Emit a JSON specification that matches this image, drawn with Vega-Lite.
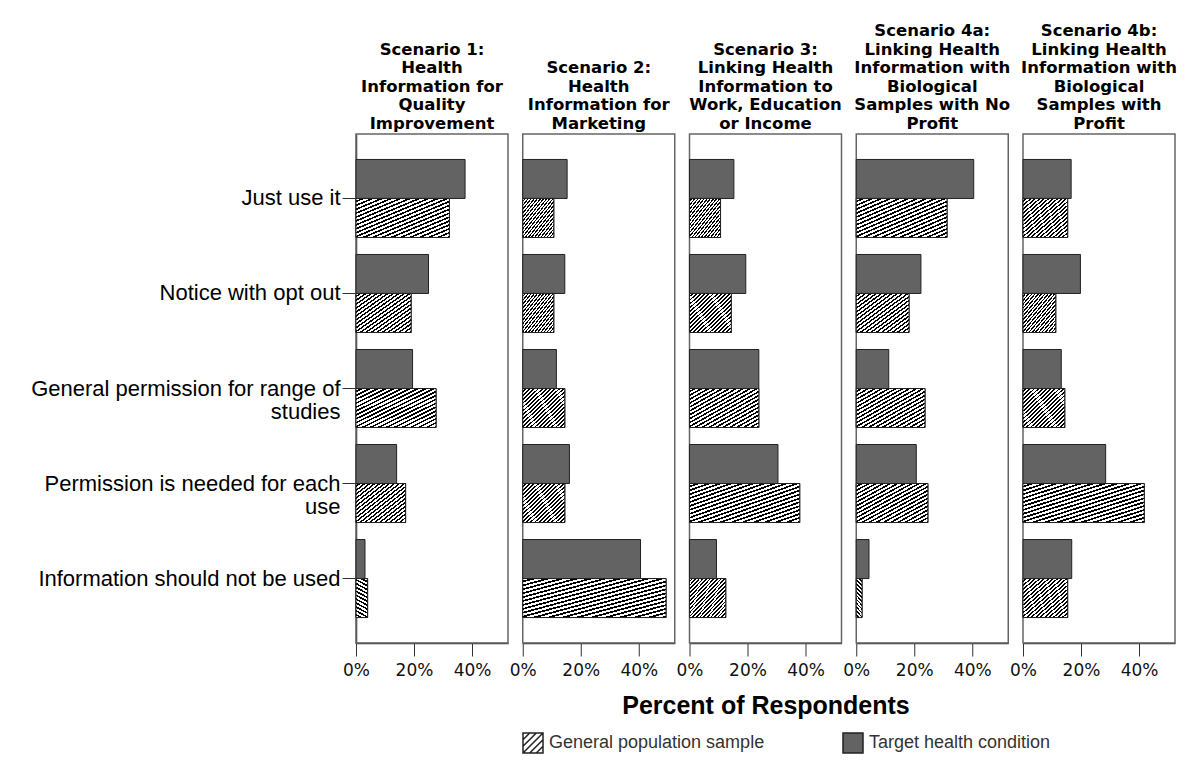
{
  "$schema": "https://vega.github.io/schema/vega-lite/v6.json",
  "padding": {"left": 30, "top": 23, "right": 10, "bottom": 10},
  "background": "white",
  "title": {"text": "Percent of Respondents", "orient": "bottom", "anchor": "middle", "frame": "group", "font": "Liberation Sans", "fontSize": 25, "fontWeight": "bold", "color": "#000000", "offset": -62, "dx": 410},
  "data": {"values": [
    {"scenario": "Scenario 1: Health Information for Quality Improvement", "response": "Just use it", "group": "Target health condition", "pct": 37.6},
    {"scenario": "Scenario 1: Health Information for Quality Improvement", "response": "Just use it", "group": "General population sample", "pct": 32.2},
    {"scenario": "Scenario 1: Health Information for Quality Improvement", "response": "Notice with opt out", "group": "Target health condition", "pct": 25.0},
    {"scenario": "Scenario 1: Health Information for Quality Improvement", "response": "Notice with opt out", "group": "General population sample", "pct": 19.0},
    {"scenario": "Scenario 1: Health Information for Quality Improvement", "response": "General permission for range of studies", "group": "Target health condition", "pct": 19.5},
    {"scenario": "Scenario 1: Health Information for Quality Improvement", "response": "General permission for range of studies", "group": "General population sample", "pct": 27.6},
    {"scenario": "Scenario 1: Health Information for Quality Improvement", "response": "Permission is needed for each use", "group": "Target health condition", "pct": 14.0},
    {"scenario": "Scenario 1: Health Information for Quality Improvement", "response": "Permission is needed for each use", "group": "General population sample", "pct": 17.1},
    {"scenario": "Scenario 1: Health Information for Quality Improvement", "response": "Information should not be used", "group": "Target health condition", "pct": 3.1},
    {"scenario": "Scenario 1: Health Information for Quality Improvement", "response": "Information should not be used", "group": "General population sample", "pct": 4.0},
    {"scenario": "Scenario 2: Health Information for Marketing", "response": "Just use it", "group": "Target health condition", "pct": 15.3},
    {"scenario": "Scenario 2: Health Information for Marketing", "response": "Just use it", "group": "General population sample", "pct": 10.7},
    {"scenario": "Scenario 2: Health Information for Marketing", "response": "Notice with opt out", "group": "Target health condition", "pct": 14.5},
    {"scenario": "Scenario 2: Health Information for Marketing", "response": "Notice with opt out", "group": "General population sample", "pct": 10.7},
    {"scenario": "Scenario 2: Health Information for Marketing", "response": "General permission for range of studies", "group": "Target health condition", "pct": 11.6},
    {"scenario": "Scenario 2: Health Information for Marketing", "response": "General permission for range of studies", "group": "General population sample", "pct": 14.5},
    {"scenario": "Scenario 2: Health Information for Marketing", "response": "Permission is needed for each use", "group": "Target health condition", "pct": 16.1},
    {"scenario": "Scenario 2: Health Information for Marketing", "response": "Permission is needed for each use", "group": "General population sample", "pct": 14.5},
    {"scenario": "Scenario 2: Health Information for Marketing", "response": "Information should not be used", "group": "Target health condition", "pct": 40.6},
    {"scenario": "Scenario 2: Health Information for Marketing", "response": "Information should not be used", "group": "General population sample", "pct": 49.4},
    {"scenario": "Scenario 3: Linking Health Information to Work, Education or Income", "response": "Just use it", "group": "Target health condition", "pct": 15.3},
    {"scenario": "Scenario 3: Linking Health Information to Work, Education or Income", "response": "Just use it", "group": "General population sample", "pct": 10.7},
    {"scenario": "Scenario 3: Linking Health Information to Work, Education or Income", "response": "Notice with opt out", "group": "Target health condition", "pct": 19.4},
    {"scenario": "Scenario 3: Linking Health Information to Work, Education or Income", "response": "Notice with opt out", "group": "General population sample", "pct": 14.4},
    {"scenario": "Scenario 3: Linking Health Information to Work, Education or Income", "response": "General permission for range of studies", "group": "Target health condition", "pct": 23.9},
    {"scenario": "Scenario 3: Linking Health Information to Work, Education or Income", "response": "General permission for range of studies", "group": "General population sample", "pct": 23.9},
    {"scenario": "Scenario 3: Linking Health Information to Work, Education or Income", "response": "Permission is needed for each use", "group": "Target health condition", "pct": 30.5},
    {"scenario": "Scenario 3: Linking Health Information to Work, Education or Income", "response": "Permission is needed for each use", "group": "General population sample", "pct": 38.0},
    {"scenario": "Scenario 3: Linking Health Information to Work, Education or Income", "response": "Information should not be used", "group": "Target health condition", "pct": 9.3},
    {"scenario": "Scenario 3: Linking Health Information to Work, Education or Income", "response": "Information should not be used", "group": "General population sample", "pct": 12.5},
    {"scenario": "Scenario 4a: Linking Health Information with Biological Samples with No Profit", "response": "Just use it", "group": "Target health condition", "pct": 40.5},
    {"scenario": "Scenario 4a: Linking Health Information with Biological Samples with No Profit", "response": "Just use it", "group": "General population sample", "pct": 31.3},
    {"scenario": "Scenario 4a: Linking Health Information with Biological Samples with No Profit", "response": "Notice with opt out", "group": "Target health condition", "pct": 22.3},
    {"scenario": "Scenario 4a: Linking Health Information with Biological Samples with No Profit", "response": "Notice with opt out", "group": "General population sample", "pct": 18.2},
    {"scenario": "Scenario 4a: Linking Health Information with Biological Samples with No Profit", "response": "General permission for range of studies", "group": "Target health condition", "pct": 11.2},
    {"scenario": "Scenario 4a: Linking Health Information with Biological Samples with No Profit", "response": "General permission for range of studies", "group": "General population sample", "pct": 23.7},
    {"scenario": "Scenario 4a: Linking Health Information with Biological Samples with No Profit", "response": "Permission is needed for each use", "group": "Target health condition", "pct": 20.7},
    {"scenario": "Scenario 4a: Linking Health Information with Biological Samples with No Profit", "response": "Permission is needed for each use", "group": "General population sample", "pct": 24.7},
    {"scenario": "Scenario 4a: Linking Health Information with Biological Samples with No Profit", "response": "Information should not be used", "group": "Target health condition", "pct": 4.4},
    {"scenario": "Scenario 4a: Linking Health Information with Biological Samples with No Profit", "response": "Information should not be used", "group": "General population sample", "pct": 2.0},
    {"scenario": "Scenario 4b: Linking Health Information with Biological Samples with Profit", "response": "Just use it", "group": "Target health condition", "pct": 16.6},
    {"scenario": "Scenario 4b: Linking Health Information with Biological Samples with Profit", "response": "Just use it", "group": "General population sample", "pct": 15.4},
    {"scenario": "Scenario 4b: Linking Health Information with Biological Samples with Profit", "response": "Notice with opt out", "group": "Target health condition", "pct": 19.8},
    {"scenario": "Scenario 4b: Linking Health Information with Biological Samples with Profit", "response": "Notice with opt out", "group": "General population sample", "pct": 11.3},
    {"scenario": "Scenario 4b: Linking Health Information with Biological Samples with Profit", "response": "General permission for range of studies", "group": "Target health condition", "pct": 13.2},
    {"scenario": "Scenario 4b: Linking Health Information with Biological Samples with Profit", "response": "General permission for range of studies", "group": "General population sample", "pct": 14.4},
    {"scenario": "Scenario 4b: Linking Health Information with Biological Samples with Profit", "response": "Permission is needed for each use", "group": "Target health condition", "pct": 28.5},
    {"scenario": "Scenario 4b: Linking Health Information with Biological Samples with Profit", "response": "Permission is needed for each use", "group": "General population sample", "pct": 41.8},
    {"scenario": "Scenario 4b: Linking Health Information with Biological Samples with Profit", "response": "Information should not be used", "group": "Target health condition", "pct": 16.8},
    {"scenario": "Scenario 4b: Linking Health Information with Biological Samples with Profit", "response": "Information should not be used", "group": "General population sample", "pct": 15.4}
  ]},
  "facet": {
    "column": {
      "field": "scenario",
      "type": "nominal",
      "title": null,
      "sort": [
        "Scenario 1: Health Information for Quality Improvement",
        "Scenario 2: Health Information for Marketing",
        "Scenario 3: Linking Health Information to Work, Education or Income",
        "Scenario 4a: Linking Health Information with Biological Samples with No Profit",
        "Scenario 4b: Linking Health Information with Biological Samples with Profit"
      ],
      "header": {
        "labelOrient": "top",
        "labelAnchor": "middle",
        "labelBaseline": "bottom",
        "labelFont": "DejaVu Sans",
        "labelFontWeight": "bold",
        "labelFontSize": 16.5,
        "labelLineHeight": 18.5,
        "labelColor": "#000000",
        "labelPadding": -14,
        "labelExpr": "datum.value == 'Scenario 1: Health Information for Quality Improvement' ? ['Scenario 1:', 'Health', 'Information for', 'Quality', 'Improvement'] : datum.value == 'Scenario 2: Health Information for Marketing' ? ['Scenario 2:', 'Health', 'Information for', 'Marketing'] : datum.value == 'Scenario 3: Linking Health Information to Work, Education or Income' ? ['Scenario 3:', 'Linking Health', 'Information to', 'Work, Education', 'or Income'] : datum.value == 'Scenario 4a: Linking Health Information with Biological Samples with No Profit' ? ['Scenario 4a:', 'Linking Health', 'Information with', 'Biological', 'Samples with No', 'Profit'] : ['Scenario 4b:', 'Linking Health', 'Information with', 'Biological', 'Samples with', 'Profit']"
      }
    }
  },
  "spacing": 14.75,
  "bounds": "flush",
  "spec": {
    "width": 152,
    "height": 509,
    "encoding": {
      "y": {
        "field": "response",
        "type": "nominal",
        "sort": ["Just use it", "Notice with opt out", "General permission for range of studies", "Permission is needed for each use", "Information should not be used"],
        "scale": {"paddingInner": 0.179, "paddingOuter": 0.268},
        "axis": {
          "title": null,
          "labelFont": "Liberation Sans",
          "labelFontSize": 22,
          "labelColor": "#000000",
          "labelLineHeight": 23,
          "labelLimit": 400,
          "labelPadding": 2,
          "tickSize": 14,
          "tickColor": "#333333",
          "domainColor": "#333333",
          "domainWidth": 1.5,
          "labelExpr": "datum.value == 'General permission for range of studies' ? ['General permission for range of', 'studies'] : datum.value == 'Permission is needed for each use' ? ['Permission is needed for each', 'use'] : datum.value"
        }
      },
      "yOffset": {
        "field": "group",
        "type": "nominal",
        "sort": ["Target health condition", "General population sample"],
        "scale": {"domain": ["Target health condition", "General population sample"], "paddingInner": 0, "paddingOuter": 0}
      },
      "x": {
        "field": "pct",
        "type": "quantitative",
        "scale": {"domain": [0, 52.4], "nice": false},
        "axis": {
          "title": null,
          "values": [0, 20, 40],
          "labelExpr": "datum.value + '%'",
          "labelFont": "DejaVu Sans",
          "labelFontSize": 17,
          "labelColor": "#111111",
          "labelPadding": 6,
          "labelFlush": false,
          "tickSize": 13,
          "tickColor": "#333333",
          "domainColor": "#333333",
          "domainWidth": 1.5,
          "grid": false
        }
      }
    },
    "layer": [
      {
        "mark": {"type": "bar", "stroke": "#222222", "strokeWidth": 1},
        "encoding": {
          "fill": {
            "field": "group",
            "type": "nominal",
            "scale": {
              "domain": ["General population sample", "Target health condition"],
              "range": ["#ffffff", "#636363"]
            },
            "legend": {
              "title": null,
              "orient": "none",
              "legendX": 166,
              "legendY": 598,
              "direction": "horizontal",
              "symbolSize": 400,
              "symbolStrokeColor": "#222222",
              "symbolStrokeWidth": 1.5,
              "labelFont": "Liberation Sans",
              "labelFontSize": 18,
              "labelColor": "#333333",
              "labelLimit": 400,
              "labelOffset": 5,
              "columnPadding": 75,
              "padding": 0
            }
          }
        }
      },
      {
        "transform": [{"filter": "datum.group === 'General population sample'"}],
        "mark": {"type": "bar", "stroke": "#222222", "strokeWidth": 1, "fill": {"gradient": "linear", "x1": 0, "y1": 0, "x2": 1, "y2": 1, "stops": [
          {"offset": 0, "color": "#ffffff"}, {"offset": 0.0275, "color": "#ffffff"}, {"offset": 0.0275, "color": "#000000"}, {"offset": 0.05, "color": "#000000"},
          {"offset": 0.05, "color": "#ffffff"}, {"offset": 0.0775, "color": "#ffffff"}, {"offset": 0.0775, "color": "#000000"}, {"offset": 0.1, "color": "#000000"},
          {"offset": 0.1, "color": "#ffffff"}, {"offset": 0.1275, "color": "#ffffff"}, {"offset": 0.1275, "color": "#000000"}, {"offset": 0.15, "color": "#000000"},
          {"offset": 0.15, "color": "#ffffff"}, {"offset": 0.1775, "color": "#ffffff"}, {"offset": 0.1775, "color": "#000000"}, {"offset": 0.2, "color": "#000000"},
          {"offset": 0.2, "color": "#ffffff"}, {"offset": 0.2275, "color": "#ffffff"}, {"offset": 0.2275, "color": "#000000"}, {"offset": 0.25, "color": "#000000"},
          {"offset": 0.25, "color": "#ffffff"}, {"offset": 0.2775, "color": "#ffffff"}, {"offset": 0.2775, "color": "#000000"}, {"offset": 0.3, "color": "#000000"},
          {"offset": 0.3, "color": "#ffffff"}, {"offset": 0.3275, "color": "#ffffff"}, {"offset": 0.3275, "color": "#000000"}, {"offset": 0.35, "color": "#000000"},
          {"offset": 0.35, "color": "#ffffff"}, {"offset": 0.3775, "color": "#ffffff"}, {"offset": 0.3775, "color": "#000000"}, {"offset": 0.4, "color": "#000000"},
          {"offset": 0.4, "color": "#ffffff"}, {"offset": 0.4275, "color": "#ffffff"}, {"offset": 0.4275, "color": "#000000"}, {"offset": 0.45, "color": "#000000"},
          {"offset": 0.45, "color": "#ffffff"}, {"offset": 0.4775, "color": "#ffffff"}, {"offset": 0.4775, "color": "#000000"}, {"offset": 0.5, "color": "#000000"},
          {"offset": 0.5, "color": "#ffffff"}, {"offset": 0.5275, "color": "#ffffff"}, {"offset": 0.5275, "color": "#000000"}, {"offset": 0.55, "color": "#000000"},
          {"offset": 0.55, "color": "#ffffff"}, {"offset": 0.5775, "color": "#ffffff"}, {"offset": 0.5775, "color": "#000000"}, {"offset": 0.6, "color": "#000000"},
          {"offset": 0.6, "color": "#ffffff"}, {"offset": 0.6275, "color": "#ffffff"}, {"offset": 0.6275, "color": "#000000"}, {"offset": 0.65, "color": "#000000"},
          {"offset": 0.65, "color": "#ffffff"}, {"offset": 0.6775, "color": "#ffffff"}, {"offset": 0.6775, "color": "#000000"}, {"offset": 0.7, "color": "#000000"},
          {"offset": 0.7, "color": "#ffffff"}, {"offset": 0.7275, "color": "#ffffff"}, {"offset": 0.7275, "color": "#000000"}, {"offset": 0.75, "color": "#000000"},
          {"offset": 0.75, "color": "#ffffff"}, {"offset": 0.7775, "color": "#ffffff"}, {"offset": 0.7775, "color": "#000000"}, {"offset": 0.8, "color": "#000000"},
          {"offset": 0.8, "color": "#ffffff"}, {"offset": 0.8275, "color": "#ffffff"}, {"offset": 0.8275, "color": "#000000"}, {"offset": 0.85, "color": "#000000"},
          {"offset": 0.85, "color": "#ffffff"}, {"offset": 0.8775, "color": "#ffffff"}, {"offset": 0.8775, "color": "#000000"}, {"offset": 0.9, "color": "#000000"},
          {"offset": 0.9, "color": "#ffffff"}, {"offset": 0.9275, "color": "#ffffff"}, {"offset": 0.9275, "color": "#000000"}, {"offset": 0.95, "color": "#000000"},
          {"offset": 0.95, "color": "#ffffff"}, {"offset": 0.9775, "color": "#ffffff"}, {"offset": 0.9775, "color": "#000000"}, {"offset": 1, "color": "#000000"}
        ]}}
      },
      {
        "transform": [{"filter": "false"}],
        "mark": {"type": "point", "filled": true, "stroke": "#222222", "strokeWidth": 1.5, "opacity": 1},
        "encoding": {
          "fill": {
            "field": "group",
            "type": "nominal",
            "scale": {
              "domain": ["General population sample", "Target health condition"],
              "range": ["#ffffff", "#636363"]
            }
          },
          "shape": {
            "field": "group",
            "type": "nominal",
            "scale": {
              "domain": ["General population sample", "Target health condition"],
              "range": ["M-1,-1H1V1H-1Z M-1,-0.33L-0.33,-1 M-1,0.33L0.33,-1 M-1,1L1,-1 M-0.33,1L1,-0.33 M0.33,1L1,0.33", "square"]
            },
            "legend": {
              "title": null,
              "orient": "none",
              "legendX": 166,
              "legendY": 598,
              "direction": "horizontal",
              "symbolSize": 400,
              "symbolStrokeColor": "#222222",
              "symbolStrokeWidth": 1.5,
              "labelFont": "Liberation Sans",
              "labelFontSize": 18,
              "labelColor": "#333333",
              "labelLimit": 400,
              "labelOffset": 5,
              "columnPadding": 75,
              "padding": 0
            }
          }
        }
      }
    ]
  },
  "config": {
    "view": {"stroke": "#666666", "strokeWidth": 1.5}
  }
}
